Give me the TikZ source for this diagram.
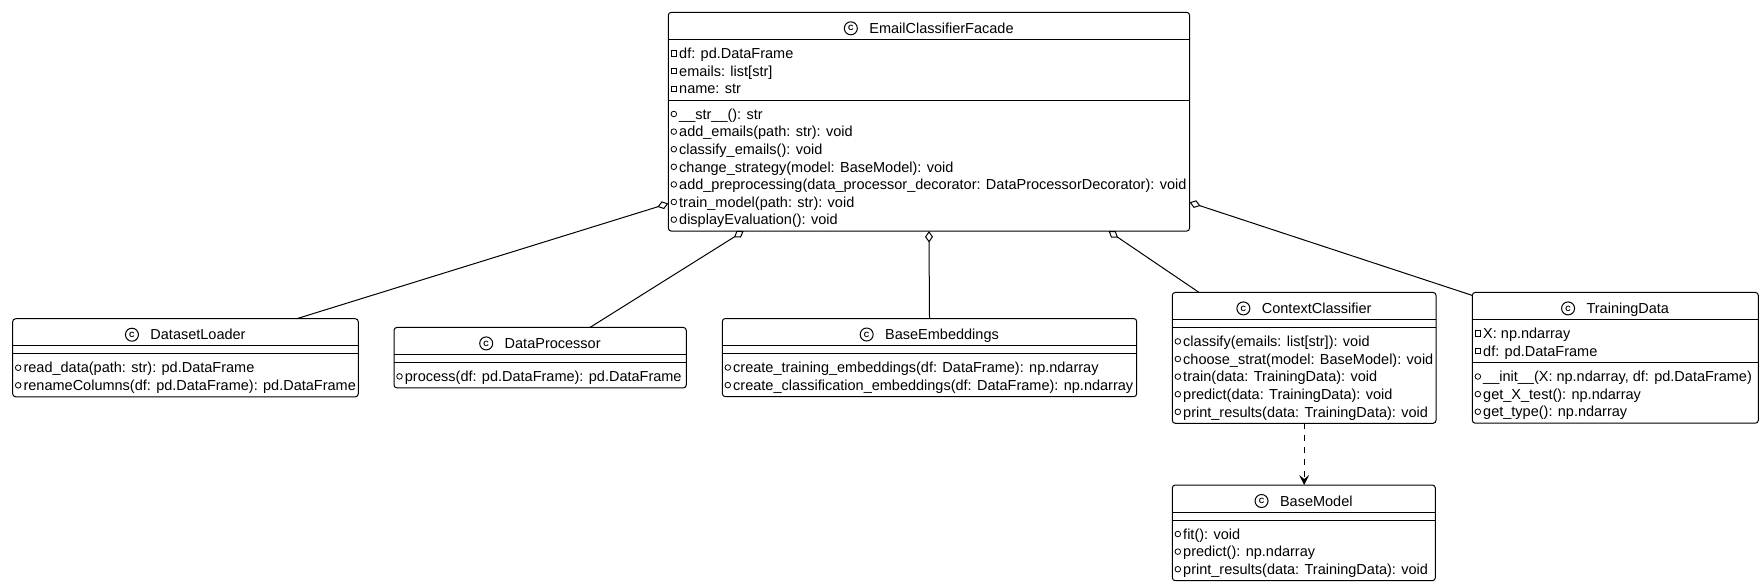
\documentclass[tikz,border=0pt]{standalone}
\usepackage{fontspec}
\setmainfont{Liberation Sans}
\usetikzlibrary{arrows.meta,positioning,calc}

% #1 name, #2/#3 top left, #4 width, #5 title, #6/#7 attributes, #8/#9 methods
\newcommand{\umlclass}[9]{%
  \ifnum#6=0 \def\mtop{35}\else\pgfmathsetmacro\mtop{27+(#6-1)*17.6+25.5}\fi
  \pgfmathsetmacro\ch{\mtop+(#8-1)*17.6+25.5}
  \node[classbox, minimum width=#4*0.5pt, minimum height=\ch*0.5pt] (#1) at (#2,#3) {};
  \draw[sepline] ($(#1.north west)+(0,27)$) -- ($(#1.north east)+(0,27)$);
  \draw[sepline] ($(#1.north west)+(0,\mtop)$) -- ($(#1.north east)+(0,\mtop)$);
  \node[ctitle] (#1-t) at ($(#1.north)+(12.5,16)$) {#5};
  \node[cicon, left=6pt of #1-t] (#1-c) {C};
  \ifnum#6>0
    \foreach \m [count=\i] in {#7} {
      \node[privicon] (#1-pa\i) at ($(#1.north west)+(5.5,{41+(\i-1)*17.6})$) {};
      \node[member] (#1-a\i) at ($(#1.north west)+(10.5,{41+(\i-1)*17.6})$) {\m};
    }
  \fi
  \foreach \m [count=\i] in {#9} {
    \node[pubicon] (#1-pm\i) at ($(#1.north west)+(5.5,{\mtop+14+(\i-1)*17.6})$) {};
    \node[member] (#1-m\i) at ($(#1.north west)+(10.5,{\mtop+14+(\i-1)*17.6})$) {\m};
  }
}

\begin{document}
\begin{tikzpicture}[
    x=0.5pt, y=-0.5pt,
    font=\fontsize{7.25}{8.7}\selectfont,
    classbox/.style={draw, line width=0.5pt, rounded corners=1.5pt, fill=white, anchor=north west, inner sep=0pt, outer sep=0pt},
    sepline/.style={line width=0.5pt},
    ctitle/.style={inner sep=0pt, outer sep=0pt, text height=5.2pt, text depth=0pt},
    cicon/.style={draw, circle, fill=white, line width=0.5pt, minimum size=6.5pt, inner sep=0pt, outer sep=0pt, font=\fontsize{3.8}{4}\selectfont\bfseries},
    member/.style={anchor=west, inner sep=0pt, text height=5.2pt, text depth=0pt},
    privicon/.style={draw, rectangle, line width=0.4pt, minimum size=2.6pt, inner sep=0pt},
    pubicon/.style={draw, circle, line width=0.4pt, minimum size=2.8pt, inner sep=0pt},
    agg/.style={{Diamond[open, length=5.7pt, width=4pt]}-, line width=0.5pt},
    dep/.style={-{Stealth[length=5pt, width=5pt, inset=2pt]}, line width=0.5pt, dash pattern=on 3pt off 3pt}
  ]
  \path[fill=white, use as bounding box] (0,0) rectangle (1764,586);

  \umlclass{facade}{668.3}{12.3}{521.3}{EmailClassifierFacade}
    {3}{df: pd.DataFrame, emails: list[str], name: str}
    {7}{\_\_str\_\_(): str, add\_emails(path: str): void, classify\_emails(): void,
        change\_strategy(model: BaseModel): void,
        add\_preprocessing(data\_processor\_decorator: DataProcessorDecorator): void,
        train\_model(path: str): void, displayEvaluation(): void}
  \umlclass{loader}{12.7}{318.7}{345.6}{DatasetLoader}
    {0}{}
    {2}{read\_data(path: str): pd.DataFrame, renameColumns(df: pd.DataFrame): pd.DataFrame}
  \umlclass{proc}{394}{327.4}{292.3}{DataProcessor}
    {0}{}
    {1}{process(df: pd.DataFrame): pd.DataFrame}
  \umlclass{emb}{722.3}{318.5}{414.4}{BaseEmbeddings}
    {0}{}
    {2}{create\_training\_embeddings(df: DataFrame): np.ndarray,
        create\_classification\_embeddings(df: DataFrame): np.ndarray}
  \umlclass{ctx}{1172.3}{292.4}{263.7}{ContextClassifier}
    {0}{}
    {5}{classify(emails: list[str]): void, choose\_strat(model: BaseModel): void,
        train(data: TrainingData): void, predict(data: TrainingData): void,
        print\_results(data: TrainingData): void}
  \umlclass{tdata}{1472.3}{292.4}{286}{TrainingData}
    {2}{X: np.ndarray, df: pd.DataFrame}
    {3}{{\_\_init\_\_(X: np.ndarray, df: pd.DataFrame)}, get\_X\_test(): np.ndarray, get\_type(): np.ndarray}
  \umlclass{bmodel}{1172.3}{485}{263}{BaseModel}
    {0}{}
    {3}{fit(): void, predict(): np.ndarray, print\_results(data: TrainingData): void}

  % aggregations
  \draw[agg] ($(facade.north west)+(0,191.2)$) -- ($(loader.north west)+(284,0)$);
  \draw[agg] ($(facade.south west)+(75.3,0)$) -- ($(proc.north west)+(196,0)$);
  \draw[agg] (facade.south) -- (emb.north);
  \draw[agg] ($(facade.south west)+(440.3,0)$) -- ($(ctx.north west)+(26.7,0)$);
  \draw[agg] ($(facade.north east)+(0,190)$) -- ($(tdata.north west)+(0,3)$);
  % dependency
  \draw[dep] (ctx.south) -- (ctx.south |- bmodel.north);
\end{tikzpicture}
\end{document}
